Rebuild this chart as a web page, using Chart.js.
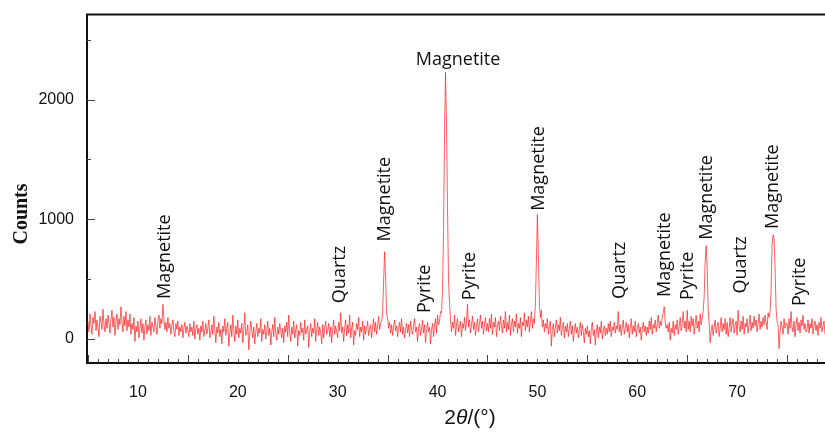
<!DOCTYPE html>
<html><head><meta charset="utf-8">
<script src="https://cdn.jsdelivr.net/npm/chart.js@4.4.1/dist/chart.umd.min.js"></script>
<style>html,body{margin:0;padding:0;background:#fff}#wrap{width:825px;height:432px}</style>
</head><body><div id="wrap"><canvas id="c" width="825" height="432"></canvas></div>
<script>
// 2-theta scan grid
const thetaStart = 5.0;
const thetaStep = 0.1;
// Counts (5.0 .. 78.9 deg, 0.1 deg steps, 20 values per row)
const counts = [
  150, 60, 210, 110, 40, 180, 130, 230, 70, 160, 100, 20, 190, 140, 80, 250, 120, 60, 170, 90,
  200, 130, 50, 160, 240, 100, 180, 30, 140, 210, 80, 170, 120, 270, 150, 60, 190, 110, 230, 70,
  160, 100, 210, 40, 130, 80, 180, -20, 110, 60, 150, 10, 90, 170, 50, 130, -10, 100, 160, 40,
  120, 70, 190, 30, 140, 100, 60, 180, 110, 40, 150, 200, 90, 170, 130, 290, 160, 80, 140, 60,
  180, 90, 130, 40, 110, 160, 60, 20, 130, 80, 150, 30, 100, 60, 120, 10, 90, 140, 50, 110,
  70, 20, 130, 60, 100, 30, 150, 0, 80, 120, 40, 90, -10, 110, 60, 150, 20, 70, 130, 40,
  90, 160, 10, 60, 120, 40, 190, 80, -30, 100, 50, 140, 20, 80, -40, 110, 60, 170, 30, 90,
  140, -60, 50, 120, 20, 200, 70, -20, 110, 40, 160, 10, 90, 50, 130, -30, 80, 220, 30, 60,
  120, -90, 40, 150, 70, 10, 100, -40, 60, 130, 20, 90, 50, 170, -20, 80, 40, 120, 0, 70,
  150, 30, 90, -50, 60, 120, 20, 180, 50, -10, 100, 40, 130, 70, 10, 90, -30, 110, 60, 140,
  20, 200, 60, -20, 100, 40, 150, 10, 80, 120, -60, 70, 30, 140, 50, 90, -10, 160, 40, 80,
  110, -70, 60, 130, 20, 90, 50, 170, -20, 80, 140, 30, 100, 60, -40, 120, 10, 90, 150, 40,
  70, 130, 20, 100, -30, 80, 160, 40, 110, 60, 10, 140, 70, 220, 50, 100, -20, 90, 160, 30,
  120, 50, 200, 10, 90, 140, -50, 70, 30, 130, 80, 180, 20, 100, 60, 150, -10, 110, 40, 90,
  150, 30, 80, 120, 10, 100, 170, 60, 140, 40, 110, 190, 80, 130, 150, 200, 480, 730, 520, 210,
  180, 90, 140, 50, 120, 30, 100, 160, 70, 110, 20, 90, 140, 60, 170, 40, 100, 10, 80, 130,
  50, 120, 20, 150, 80, 40, 110, 170, 60, 100, -20, 90, 130, 30, 80, 160, 50, 120, -30, 70,
  140, 60, 100, -40, 80, 130, 20, 110, 170, 50, 200, 120, 150, 230, 220, 400, 900, 1700, 2230, 1800,
  1100, 500, 300, 160, 60, 140, 90, 200, 30, 120, 170, 60, 110, 150, 20, 130, 90, 180, 70, 140,
  290, 100, 160, 50, 120, 190, 80, 140, 30, 110, 170, 60, 130, 200, 90, 150, 40, 120, 180, 70,
  130, 60, 170, 90, 210, 40, 140, 100, 180, 20, 110, 150, 70, 190, 120, 50, 160, 90, 230, 60,
  140, 80, 200, 30, 120, 170, 60, 150, 100, 210, 50, 130, 90, 180, 20, 140, 110, 220, 70, 160,
  100, 190, 60, 150, 230, 90, 170, 130, 300, 650, 1040, 700, 300, 180, 240, 100, 160, 60, 130, 90,
  170, 40, 110, 150, -60, 80, 130, 20, 100, 160, 50, 120, 70, 180, 30, 90, 140, 10, 110, 60,
  130, 20, 90, 150, 40, 110, -20, 70, 130, 50, 100, 10, 80, 140, 30, 120, 60, -30, 90, 40,
  110, 20, 70, -40, 90, 140, 30, 80, -50, 60, 120, 10, 100, 50, 150, 0, 70, 110, 30, 90,
  40, 130, 60, 150, 20, 100, 70, 140, 50, 110, 80, 230, 60, 120, 30, 100, 160, 40, 90, 140,
  60, 120, 10, 90, 170, 40, 110, 60, 150, 20, 90, 130, 50, 100, -10, 80, 140, 60, 110, 30,
  100, 50, 150, 80, 180, 40, 120, 90, 160, 60, 130, 200, 90, 150, 110, 180, 220, 270, 140, 90,
  120, 60, 140, -10, 90, 50, 150, 30, 120, 80, 160, 40, 110, 180, 70, 130, 230, 90, 150, 60,
  240, 80, 150, 60, 190, 110, 170, 40, 130, 200, 90, 150, 60, 210, 120, 170, 230, 350, 650, 780,
  600, 250, 130, -30, 70, 120, 30, 100, 160, 50, 110, 140, 20, 90, 180, 60, 130, 80, 170, 40,
  140, 20, 90, 180, 60, 120, 170, 50, 110, 150, 30, 240, 110, 60, 150, 80, 190, 40, 130, 100,
  170, 50, 120, 200, 70, 140, 90, 190, 110, 160, 60, 130, 210, 80, 150, 100, 180, 120, 200, 140,
  80, 220, 180, 230, 400, 780, 870, 840, 600, 250, 150, 120, -80, 60, 150, 100, 40, 170, 90, 130,
  130, 40, 170, 90, 230, 100, 60, 150, 20, 120, 180, 70, 140, 50, 160, 110, 200, 80, 130, 60,
  80, 160, 50, 130, 90, 170, 40, 110, 150, 70, 120, 30, 140, 90, 180, 60, 110, 150, 40, 100
];
const xTickLabels = [10, 20, 30, 40, 50, 60, 70];
const yTickLabels = [0, 1000, 2000];
// Phase labels
const annotLabels = ['Magnetite','Quartz','Magnetite','Pyrite','Magnetite','Pyrite','Magnetite','Quartz','Magnetite','Pyrite','Magnetite','Quartz','Magnetite','Pyrite'];
const annotTheta  = [12.7, 30.2, 34.75, 38.75, 42.06, 43.2, 50.1, 58.3, 62.8, 65.1, 67.0, 70.4, 73.6, 76.3];
const annotCounts = [335, 300, 815, 218, 2285, 325, 1071, 335, 351, 326, 830, 380, 920, 276];
const annotRotated = [true, true, true, true, false, true, true, true, true, true, true, true, true, true];

const points = counts.map((c, i) => ({ x: +(thetaStart + i * thetaStep).toFixed(2), y: c }));

const decor = {
  id: 'decor',
  afterDraw(chart) {
    const { ctx, chartArea: a, scales: { x, y } } = chart;
    ctx.save();
    ctx.strokeStyle = '#111';
    ctx.lineWidth = 2;
    ctx.beginPath(); ctx.moveTo(a.left - 1, a.top); ctx.lineTo(a.right, a.top); ctx.stroke();
    ctx.lineWidth = 1;
    ctx.strokeStyle = '#444';
    for (let v = Math.ceil(x.min); v <= x.max; v += 1) {
      const px = Math.round(x.getPixelForValue(v)) + 0.5;
      const len = (v % 10 === 5) ? 8 : 4;
      ctx.beginPath(); ctx.moveTo(px, a.bottom); ctx.lineTo(px, a.bottom - len); ctx.stroke();
    }
    for (let v = 0; v <= y.max; v += 500) {
      const py = Math.round(y.getPixelForValue(v)) + 0.5;
      const len = (v % 1000 === 0) ? 8 : 4;
      ctx.beginPath(); ctx.moveTo(a.left, py); ctx.lineTo(a.left + len, py); ctx.stroke();
    }
    ctx.fillStyle = '#111';
    ctx.font = '18px "Open Sans"';
    annotLabels.forEach((t, i) => {
      const px = x.getPixelForValue(annotTheta[i]);
      const py = y.getPixelForValue(annotCounts[i]);
      if (annotRotated[i]) {
        ctx.save();
        ctx.translate(px, py);
        ctx.rotate(-Math.PI / 2);
        ctx.textAlign = 'left';
        ctx.textBaseline = 'middle';
        ctx.fillText(t, 0, 0);
        ctx.restore();
      } else {
        ctx.textAlign = 'center';
        ctx.textBaseline = 'alphabetic';
        ctx.fillText(t, px, py);
      }
    });
    ctx.save();
    ctx.translate(22, 214);
    ctx.rotate(-Math.PI / 2);
    ctx.font = 'bold 20px "Liberation Serif"';
    ctx.textAlign = 'center';
    ctx.textBaseline = 'middle';
    ctx.fillText('Counts', 0, 0);
    ctx.restore();
    const f1 = '21px "Liberation Sans"', f2 = 'italic 21px "Liberation Sans"';
    const parts = [['2', f1], ['θ', f2], ['/(°)', f1]];
    let w = 0;
    parts.forEach(p => { ctx.font = p[1]; w += ctx.measureText(p[0]).width; });
    let cx = 470 - w / 2;
    ctx.textAlign = 'left';
    ctx.textBaseline = 'alphabetic';
    parts.forEach(p => { ctx.font = p[1]; ctx.fillText(p[0], cx, 424); cx += ctx.measureText(p[0]).width; });
    ctx.restore();
  }
};

new Chart(document.getElementById('c'), {
  type: 'line',
  data: { datasets: [{
    data: points,
    borderColor: 'rgba(255,35,35,0.72)',
    borderWidth: 1,
    pointRadius: 0,
    tension: 0,
    fill: false
  }]},
  options: {
    responsive: false,
    animation: false,
    layout: { padding: { top: 14, right: 0, left: 0, bottom: 0 } },
    plugins: { legend: { display: false }, tooltip: { enabled: false } },
    scales: {
      x: {
        type: 'linear', min: 4.9, max: 78.8,
        afterBuildTicks: s => { s.ticks = xTickLabels.map(v => ({ value: v })); },
        afterFit: s => { s.height = 69; },
        ticks: { font: { family: 'Liberation Sans', size: 16 }, color: '#111', padding: 12, maxRotation: 0, autoSkip: false, callback: v => String(v) },
        grid: { display: false },
        border: { display: true, color: '#111', width: 2 }
      },
      y: {
        type: 'linear', min: -200, max: 2710,
        afterBuildTicks: s => { s.ticks = yTickLabels.map(v => ({ value: v })); },
        afterFit: s => { s.width = 87; },
        ticks: { font: { family: 'Liberation Sans', size: 16 }, color: '#111', padding: 5, callback: v => String(v) },
        grid: { display: false },
        border: { display: true, color: '#111', width: 2 }
      }
    }
  },
  plugins: [decor]
});
</script></body></html>
